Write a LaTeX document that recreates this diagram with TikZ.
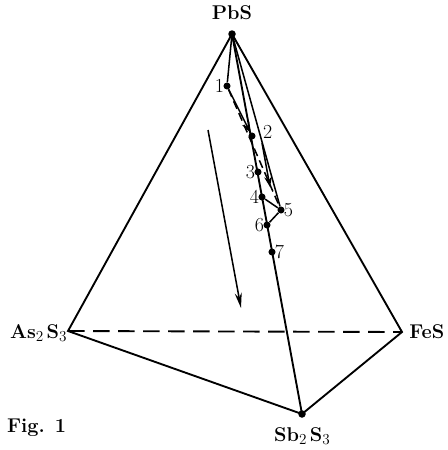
\documentclass[tikz,border=0pt]{standalone}
\usepackage{fontspec}
\usepackage{tikz}
\usetikzlibrary{arrows.meta, calc}

\newcommand{\chemsub}[1]{\raisebox{-0.35ex}{\fontsize{13}{13}\selectfont\mdseries #1}}

\tikzset{
  edge/.style={line width=1.6pt},
  hidden/.style={line width=1.6pt, dash pattern=on 0.5cm off 0.25cm},
  path/.style={line width=1.3pt},
  pt/.style={circle, fill=black, inner sep=0pt, minimum size=6pt},
  vlabel/.style={font=\fontsize{17}{20}\selectfont\bfseries},
  nlabel/.style={font=\fontsize{17}{20}\selectfont}
}

\begin{document}
\begin{tikzpicture}[x=0.03cm, y=-0.03cm, >=Stealth]
  \useasboundingbox (0,0) rectangle (447,450);
  % --- corners of the tetrahedron ---
  \coordinate (pbs) at (232,34);
  \coordinate (as) at (68,331);
  \coordinate (fes) at (402,332);
  \coordinate (sb) at (302,414);
  \node[vlabel] (pbsl) at (232,13) {PbS};
  \node[vlabel, anchor=east, inner sep=1pt] (asl) at (68,333) {As\chemsub{2}\,S\chemsub{3}};
  \node[vlabel, anchor=west, inner sep=1pt] (fesl) at (408,332) {FeS};
  \node[vlabel] (sbl) at (302,436) {Sb\chemsub{2}\,S\chemsub{3}};
  \node[vlabel, anchor=west] (fig) at (3,428) {Fig. 1};
  % edges
  \draw[edge] (pbs) -- (as) -- (sb) -- (fes) -- cycle;
  \draw[edge] (pbs) -- (sb);
  \draw[hidden] (as) -- (fes);
  \fill (pbs) circle (3.2pt);
  \fill (sb) circle (3.2pt);

  % --- composition points ---
  \node[pt] (p1) at (227,86) {};
  \node[pt] (p2) at (252,136) {};
  \node[pt] (p3) at (258,172) {};
  \node[pt] (p4) at (262,197) {};
  \node[pt] (p5) at (281,210) {};
  \node[pt] (p6) at (267,225) {};
  \node[pt] (p7) at (272,252) {};
  \node[nlabel, left=-1pt] at (p1) {1};
  \node[nlabel, anchor=west, inner sep=0pt] at (263,132) {2};
  \node[nlabel, left=-1pt] at (p3) {3};
  \node[nlabel, left=-1pt] at (p4) {4};
  \node[nlabel, right=-1pt] at (p5) {5};
  \node[nlabel, left=-1pt] at (p6) {6};
  \node[nlabel, right=-1pt] at (p7) {7};

  % trend lines
  \draw[path] (pbs) -- (p1);
  \draw[path, ->] (p1) -- (p2);
  \draw[path, dash pattern=on 7pt off 4pt] (p1) -- (p5);
  \draw[path] (pbs) -- (p5);
  \draw[path] (p4) -- (p5) -- (p6);
  \coordinate (a1) at (262,143);
  \coordinate (a2) at (270,187);
  \draw[path, ->] (a1) -- (a2);
  \coordinate (b1) at (208,130);
  \coordinate (b2) at (241,308);
  \draw[path, -{Stealth[length=13pt, width=6pt]}] (b1) -- (b2);
\end{tikzpicture}
\end{document}
